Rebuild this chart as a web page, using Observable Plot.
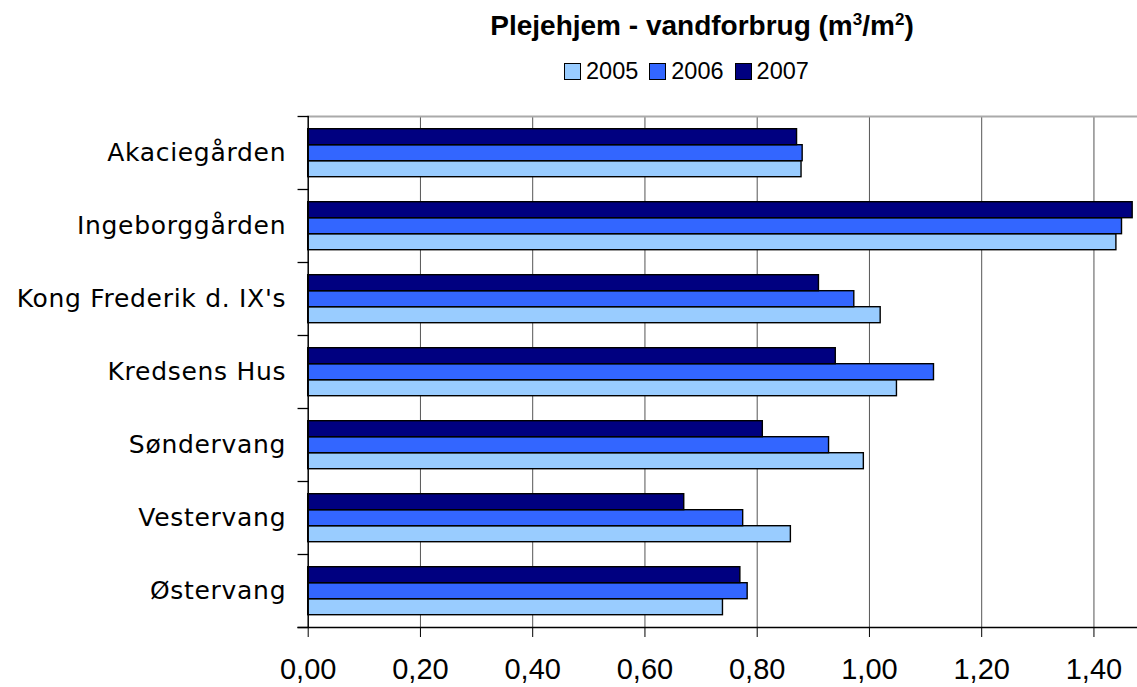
<!DOCTYPE html>
<html>
<head>
<meta charset="utf-8">
<script src="https://cdn.jsdelivr.net/npm/d3@7"></script>
<script src="https://cdn.jsdelivr.net/npm/@observablehq/plot@0.6"></script>
<style>
  html, body { margin: 0; padding: 0; background: #fff; }
  #wrap { position: relative; width: 1137px; height: 687px; overflow: hidden; }
  #head { position: relative; height: 90px; }
  #title { position: absolute; left: 702px; top: 12px; transform: translateX(-50%); white-space: nowrap;
           font-family: "Liberation Sans", Arial, sans-serif; font-weight: bold; font-size: 28px; line-height: 28px; color: #000; }
  #title .sup { font-size: 17px; vertical-align: 10px; line-height: 0; }
  #legend { position: absolute; left: 564px; top: 60px; display: flex; align-items: center;
            font-family: "Liberation Sans", Arial, sans-serif; font-size: 23.5px; line-height: 23px; }
  .item { display: flex; align-items: center; margin-right: 11px; }
  .sw { width: 15px; height: 15px; border: 1px solid #000; margin-right: 5px; }
  g[aria-label="fy-axis tick label"] text { letter-spacing: 0.7px; }
</style>
</head>
<body>
<div id="wrap">
  <div id="head">
    <div id="title">Plejehjem - vandforbrug (m<span class="sup">3</span>/m<span class="sup">2</span>)</div>
    <div id="legend"></div>
  </div>
  <div id="chart"></div>
</div>
<script>
// ---- data ----
const names = ["Akaciegården", "Ingeborggården", "Kong Frederik d. IX's", "Kredsens Hus", "Søndervang", "Vestervang", "Østervang"];
const years = ["2005", "2006", "2007"];
const v2005 = [0.879, 1.440, 1.020, 1.049, 0.990, 0.860, 0.739];
const v2006 = [0.881, 1.450, 0.973, 1.115, 0.928, 0.775, 0.783];
const v2007 = [0.871, 1.469, 0.910, 0.940, 0.810, 0.670, 0.770];
const colors = ["#99CCFF", "#3366FF", "#000080"];
const xTicks = [0, 0.2, 0.4, 0.6, 0.8, 1.0, 1.2, 1.4];

const series = {"2005": v2005, "2006": v2006, "2007": v2007};
const data = [];
names.forEach((n, i) => years.forEach(y => data.push({name: n, year: y, value: series[y][i]})));

// legend
const leg = document.getElementById("legend");
years.forEach((y, i) => {
  const it = document.createElement("div");
  it.className = "item";
  const sw = document.createElement("div");
  sw.className = "sw";
  sw.style.background = colors[i];
  const t = document.createElement("span");
  t.textContent = y;
  it.appendChild(sw); it.appendChild(t);
  leg.appendChild(it);
});

const W = 1137, H = 597;
const mL = 307.7, mR = 0, mT = 23.3, mB = 56.5;
const plotW = W - mL - mR;
const xMax = plotW / 561.25;

const chart = Plot.plot({
  width: W,
  height: H,
  marginLeft: mL,
  marginRight: mR,
  marginTop: mT,
  marginBottom: mB,
  style: {background: "#fff", fontFamily: "Liberation Sans, Arial, sans-serif"},
  x: {domain: [0, xMax]},
  y: {domain: ["2007", "2006", "2005"], paddingInner: 0, paddingOuter: 0.72, axis: null},
  fy: {domain: names, padding: 0},
  color: {domain: years, range: colors},
  marks: [
    Plot.gridX({ticks: xTicks.slice(1), stroke: "#555", strokeOpacity: 1, strokeWidth: 1}),
    Plot.frame({anchor: "top", facetAnchor: "top", stroke: "#aaa", strokeWidth: 2}),
    Plot.barX(data, {x: "value", y: "year", fy: "name", fill: "year", stroke: "#000", strokeWidth: 1.4}),
    Plot.ruleX([0], {stroke: "#000", strokeWidth: 1.5}),
    Plot.frame({anchor: "bottom", facetAnchor: "bottom", stroke: "#000", strokeWidth: 1.5, insetLeft: -10}),
    Plot.frame({anchor: "bottom", stroke: "#000", strokeWidth: 1.3, insetLeft: -10, insetRight: plotW}),
    Plot.frame({anchor: "top", facetAnchor: "top", stroke: "#000", strokeWidth: 1.3, insetLeft: -10, insetRight: plotW}),
    Plot.axisX({ticks: xTicks, tickSize: 10, tickPadding: 21, tickFormat: d => d.toFixed(2).replace(".", ","),
                fontSize: 29, fontFamily: "Liberation Sans, Arial, sans-serif", label: null, stroke: "#000", color: "#000"}),
    Plot.axisFy({anchor: "left", tickSize: 0, tickPadding: 22, fontSize: 25, fontFamily: "DejaVu Sans, Verdana, sans-serif", label: null, color: "#000"})
  ]
});
document.getElementById("chart").appendChild(chart);
</script>
</body>
</html>
